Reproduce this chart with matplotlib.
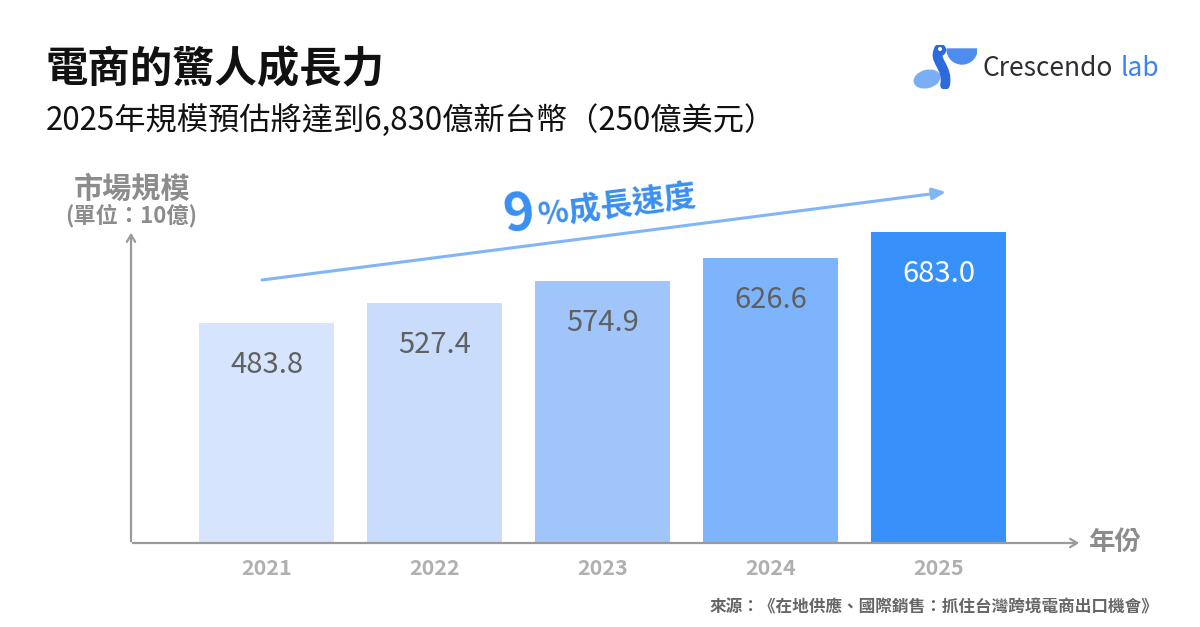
import matplotlib
matplotlib.use("Agg")
import matplotlib.pyplot as plt
from matplotlib.patches import Wedge, Ellipse, Circle, PathPatch
from matplotlib.path import Path

plt.rcParams['font.family'] = ['Noto Sans CJK TC', 'DejaVu Sans']

years = ["2021", "2022", "2023", "2024", "2025"]
values = [483.8, 527.4, 574.9, 626.6, 683.0]
bar_colors = ["#D6E4FD", "#C9DCFC", "#A0C5FA", "#7DB4FB", "#3891FB"]
label_colors = ["#606060", "#606060", "#606060", "#606060", "#FFFFFF"]

title = "電商的驚人成長力"
subtitle = "2025年規模預估將達到6,830億新台幣（250億美元）"
ylabel1 = "市場規模"
ylabel2 = "(單位：10億)"
xlabel = "年份"
growth_big = "9"
growth_text = "%成長速度"
source = "來源：《在地供應、國際銷售：抓住台灣跨境電商出口機會》"

W, H = 1200, 627
fig = plt.figure(figsize=(W / 100, H / 100), dpi=100)
fig.patch.set_facecolor("white")

def fx(x):
    return x / W

def fy(y):
    return 1 - y / H

# main axes: left x=131, bottom y=543, top y=232, right x=1080
ax = fig.add_axes([fx(131), fy(543), fx(1080 - 131), (543 - 232) / H])
x = list(range(len(years)))
ax.bar(x, values, width=135 / 168, color=bar_colors, zorder=2)
ax.set_xlim(-(266.5 - 131) / 168, (1080 - 266.5) / 168)
ax.set_ylim(0, 311 / 0.455)
for s in ax.spines.values():
    s.set_visible(False)
ax.set_yticks([])
ax.set_xticks(x)
ax.set_xticklabels(years, fontsize=15.5, color="#B0B0B0", fontweight="bold")
ax.tick_params(axis="x", length=0, pad=11)
for xi, v, c in zip(x, values, label_colors):
    ax.annotate(f"{v:.1f}", (xi, v), xytext=(0, -30), textcoords="offset points",
                ha="center", va="center", fontsize=21, color=c)

# axis arrows (figure pixels)
axis_col = "#9A9A9A"
ax.annotate("", xy=(131, H - 230), xytext=(131, H - 544), xycoords="figure pixels",
            textcoords="figure pixels",
            arrowprops=dict(arrowstyle="->,head_length=0.5,head_width=0.3", color=axis_col, lw=1.6))
ax.annotate("", xy=(1082, H - 543), xytext=(130, H - 543), xycoords="figure pixels",
            textcoords="figure pixels",
            arrowprops=dict(arrowstyle="->,head_length=0.5,head_width=0.3", color=axis_col, lw=1.6))

# growth arrow
ax.annotate("", xy=(946, H - 192), xytext=(262, H - 280), xycoords="figure pixels",
            textcoords="figure pixels",
            arrowprops=dict(arrowstyle="-|>,head_length=0.8,head_width=0.35", color="#80B6F7", lw=2.2,
                            shrinkA=0, shrinkB=0))
fig.text(fx(519), fy(215), growth_big, fontsize=38, fontweight="bold", color="#3A8FF2",
         rotation=7, ha="center", va="center")
fig.text(fx(617), fy(207), growth_text, fontsize=23, fontweight="bold", color="#3A8FF2",
         rotation=7, ha="center", va="center")

# titles
fig.text(fx(46), fy(70), title, fontsize=30.5, fontweight="bold", color="#111111", va="center", ha="left")
fig.text(fx(46), fy(121), subtitle, fontsize=22.5, color="#111111", va="center", ha="left")
fig.text(fx(132), fy(189), ylabel1, fontsize=21, fontweight="bold", color="#8C8C8C", va="center", ha="center")
fig.text(fx(131), fy(216), ylabel2, fontsize=16, fontweight="bold", color="#8C8C8C", va="center", ha="center")
fig.text(fx(1089), fy(543), xlabel, fontsize=19, fontweight="bold", color="#8C8C8C", va="center", ha="left")
fig.text(fx(1158), fy(607), source, fontsize=12, fontweight="bold", color="#666666", va="center", ha="right")

# logo text
t1 = fig.text(fx(983), fy(68), "Crescendo", fontsize=19, fontweight="medium", color="#2D2E36",
              va="center", ha="left")
fig.canvas.draw()
bb = t1.get_window_extent()
fig.text((bb.x1 + 7) / W, fy(68), "lab", fontsize=19, fontweight="medium", color="#3C82F4",
         va="center", ha="left")

# logo icon
lax = fig.add_axes([fx(913), fy(89), fx(64), 44 / H])
lax.set_xlim(0, 64)
lax.set_ylim(0, 44)
lax.set_aspect("equal")
lax.axis("off")
lax.add_patch(Wedge((49, 40), 15, 180, 360, color="#4E8CF0"))
lax.add_patch(Ellipse((14, 10), 26, 17, angle=15, color="#7AAEF6"))
neck = Path([(27, 40), (18, 30), (36, 22), (32, 4)],
            [Path.MOVETO, Path.CURVE4, Path.CURVE4, Path.CURVE4])
lax.add_patch(PathPatch(neck, fill=False, lw=7, edgecolor="#2D6BDD", capstyle="round"))
lax.add_patch(Circle((27, 39), 5.5, color="#2D6BDD"))
lax.add_patch(Circle((27, 40), 1.3, color="white"))

fig.savefig("out.png", dpi=100, facecolor="white")
